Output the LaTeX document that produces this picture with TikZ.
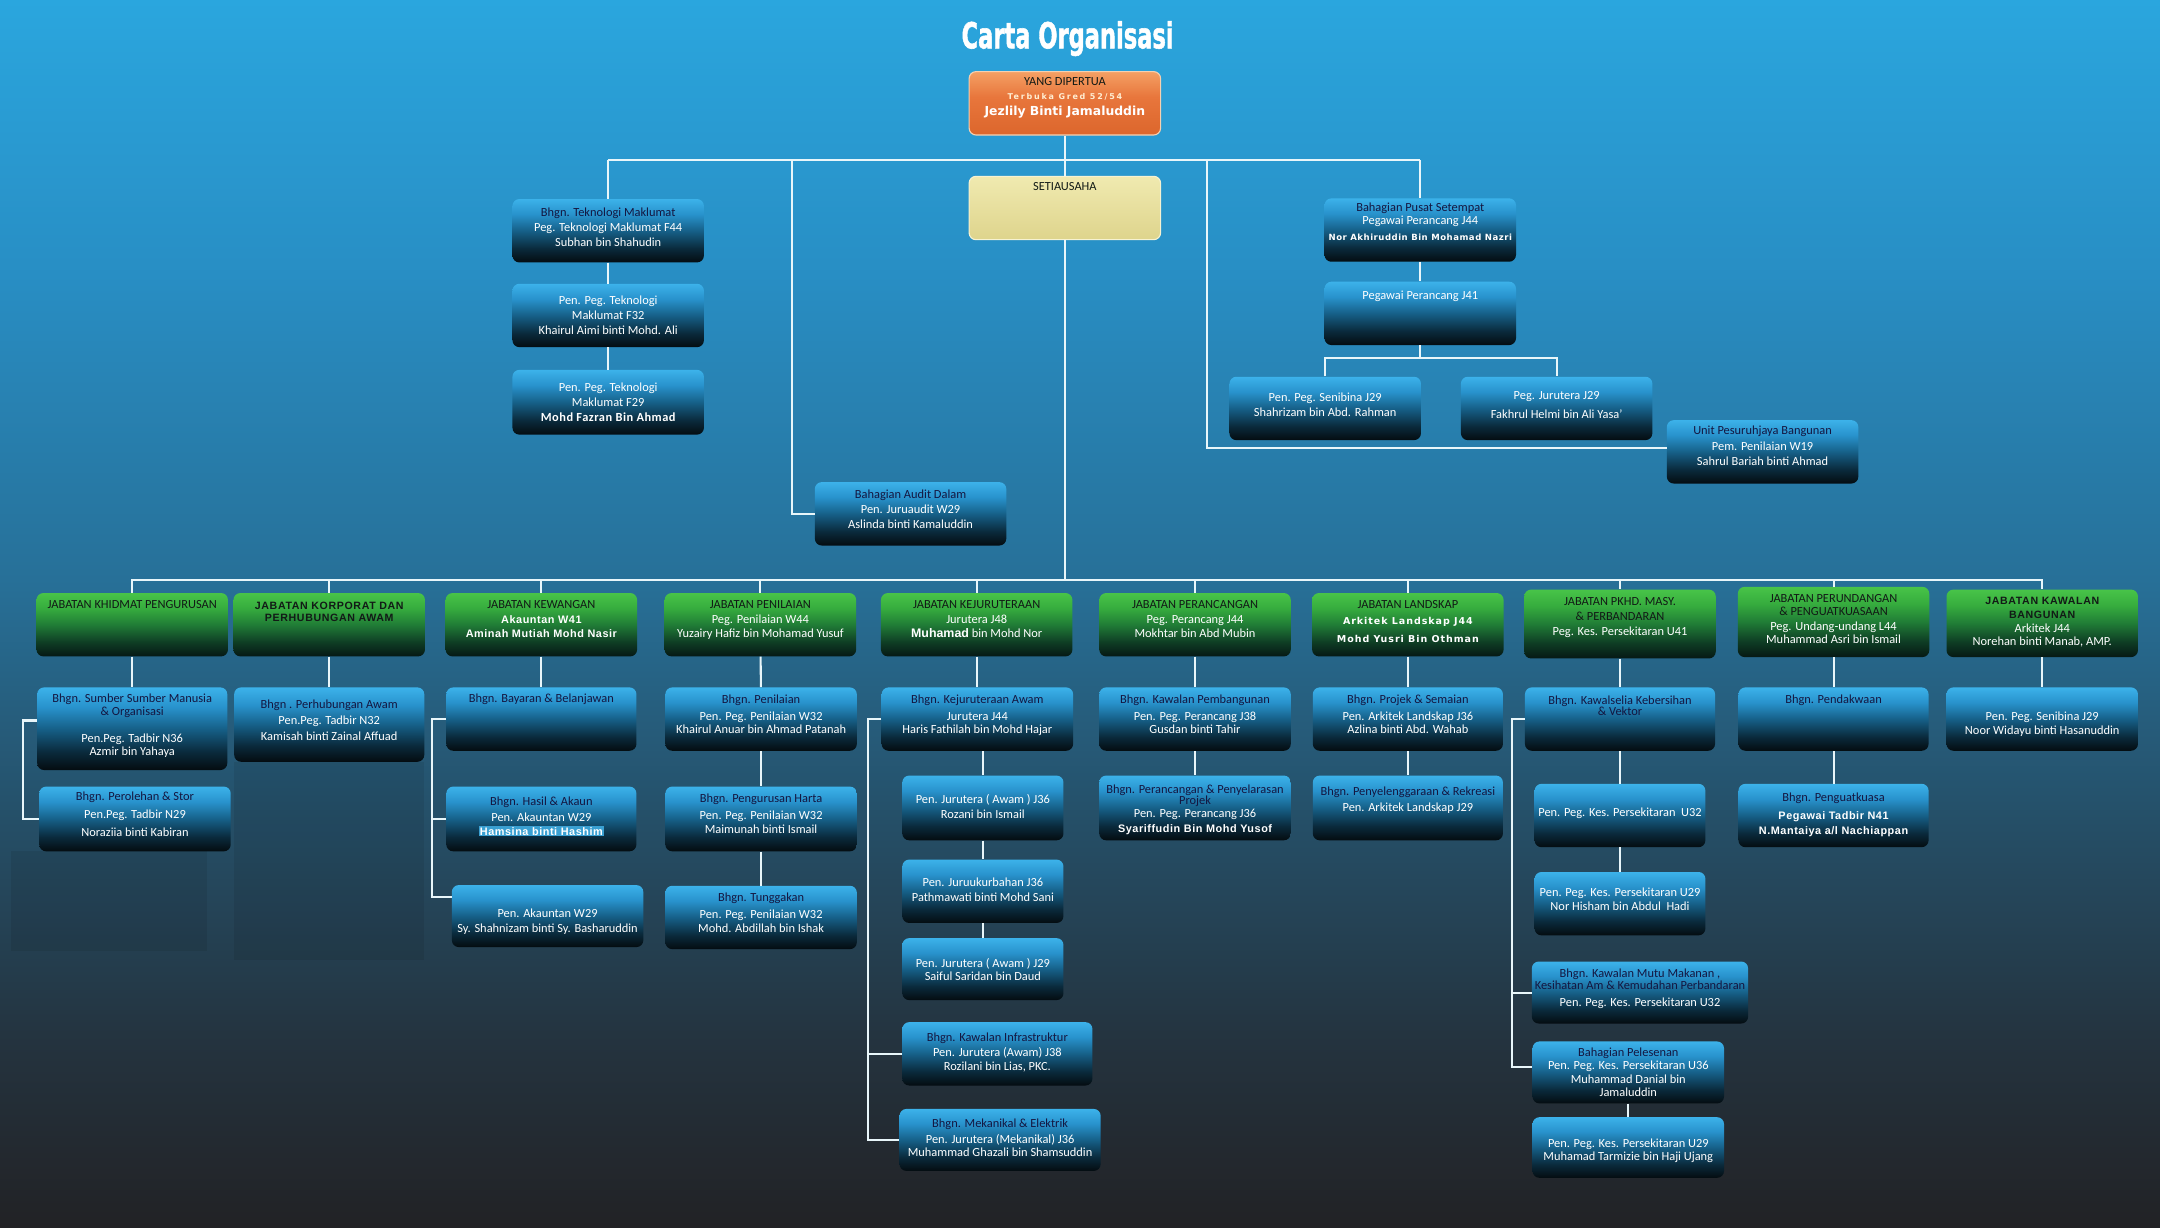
\documentclass[tikz,border=0pt]{standalone}
\usepackage{fontspec}
\setmainfont{Carlito}
\newfontfamily\arialfont{Liberation Sans}
\newfontfamily\verdfont{DejaVu Sans}
\newfontfamily\titlefont[FakeBold=1.6]{DejaVu Sans Condensed}
\usetikzlibrary{positioning}

\definecolor{bg0}{RGB}{42,166,222}
\definecolor{bg1}{RGB}{40,142,196}
\definecolor{bg2}{RGB}{39,112,152}
\definecolor{bg3}{RGB}{37,78,102}
\definecolor{bg4}{RGB}{36,52,64}
\definecolor{bg5}{RGB}{34,34,37}
\definecolor{bx0}{RGB}{60,178,234}
\definecolor{bx1}{RGB}{40,146,204}
\definecolor{bx2}{RGB}{22,96,136}
\definecolor{bx3}{RGB}{10,42,60}
\definecolor{bx4}{RGB}{4,12,16}
\definecolor{gn0}{RGB}{72,196,72}
\definecolor{gn1}{RGB}{54,172,62}
\definecolor{gn2}{RGB}{32,124,54}
\definecolor{gn3}{RGB}{14,60,36}
\definecolor{gn4}{RGB}{6,24,20}
\definecolor{or0}{RGB}{244,160,100}
\definecolor{or1}{RGB}{232,118,60}
\definecolor{or2}{RGB}{220,102,44}
\definecolor{pl0}{RGB}{240,234,176}
\definecolor{pl1}{RGB}{222,212,140}
\definecolor{navy}{RGB}{20,22,64}
\definecolor{darktxt}{RGB}{18,26,22}
\definecolor{creamtxt}{RGB}{255,238,210}
\definecolor{linec}{RGB}{232,246,250}
\definecolor{headedge}{RGB}{246,208,176}
\definecolor{secedge}{RGB}{246,242,210}
\definecolor{hlband}{RGB}{58,160,210}

\pgfdeclareverticalshading{bgshade}{100bp}{color(0bp)=(bg5); color(25bp)=(bg5); color(32.9bp)=(bg4); color(41.3bp)=(bg3); color(51.4bp)=(bg2); color(63.8bp)=(bg1); color(75bp)=(bg0); color(100bp)=(bg0)}
\pgfdeclareverticalshading{blueshade}{100bp}{color(0bp)=(bx4); color(25bp)=(bx4); color(36bp)=(bx3); color(50bp)=(bx2); color(63bp)=(bx1); color(75bp)=(bx0); color(100bp)=(bx0)}
\pgfdeclareverticalshading{greenshade}{100bp}{color(0bp)=(gn4); color(25bp)=(gn4); color(36bp)=(gn3); color(50bp)=(gn2); color(63bp)=(gn1); color(75bp)=(gn0); color(100bp)=(gn0)}
\pgfdeclareverticalshading{orangeshade}{100bp}{color(0bp)=(or2); color(25bp)=(or2); color(55bp)=(or1); color(75bp)=(or0); color(100bp)=(or0)}
\pgfdeclareverticalshading{paleshade}{100bp}{color(0bp)=(pl1); color(25bp)=(pl1); color(75bp)=(pl0); color(100bp)=(pl0)}

\newcommand{\hdr}[1]{{\color{navy}#1}}
\newcommand{\dkt}[1]{{\color{darktxt}#1}}
\newcommand{\abf}[1]{{\arialfont\bfseries\fontsize{7.9}{10}\selectfont\addfontfeature{LetterSpace=5}#1}}
\newcommand{\kbf}[1]{{\color{darktxt}\arialfont\bfseries\fontsize{7.7}{9}\selectfont\addfontfeature{LetterSpace=6}#1}}
\newcommand{\vbf}[1]{{\verdfont\bfseries\fontsize{6.9}{10}\selectfont\addfontfeature{LetterSpace=10}#1}}
\newcommand{\nbf}[1]{{\verdfont\bfseries\fontsize{6.2}{9}\selectfont\addfontfeature{LetterSpace=6}#1}}
\newcommand{\trb}[1]{{\color{creamtxt}\verdfont\bfseries\fontsize{5.8}{8}\selectfont\addfontfeature{LetterSpace=22}#1}}
\newcommand{\jzb}[1]{{\verdfont\bfseries\fontsize{9}{10}\selectfont #1}}

\begin{document}
\begin{tikzpicture}[x=1pt,y=-1pt]
\tikzstyle{subbox}=[rectangle, rounded corners=5pt, shade, shading=blueshade, minimum width=139pt, minimum height=46pt, inner sep=0pt]
\tikzstyle{deptbox}=[subbox, shading=greenshade]
\tikzstyle{headbox}=[subbox, shading=orangeshade, draw=headedge, line width=0.8pt]
\tikzstyle{secbox}=[subbox, shading=paleshade, draw=secedge, line width=0.8pt]
\tikzstyle{txt}=[font=\fontsize{9}{11}\selectfont, text=white, align=center, inner sep=0pt, yshift=-1.5pt]
\tikzstyle{connect}=[draw=linec, line width=1.5pt]
\tikzstyle{panel}=[fill=black, opacity=0.08]

\useasboundingbox (0,0) rectangle (1568,891);
\shade[shading=bgshade] (0,0) rectangle (1568,891);
\fill[panel] (170,553) rectangle (308,697);
\fill[panel] (8,618) rectangle (150,690);

\node[text=white, font=\titlefont\bfseries\fontsize{26}{26}\selectfont] (title) at (775,28) {\scalebox{0.7}[1]{Carta Organisasi}};

% top level
\node[headbox] (yd) at (773,75) {};
\node[txt, below=3pt of yd.north] (yd_t) {\dkt{YANG DIPERTUA}\\[-1pt] \trb{Terbuka Gred 52/54}\\[1pt] \jzb{Jezlily Binti Jamaluddin}};
\node[secbox] (setia) at (773,151) {};
\node[txt, below=3pt of setia.north] (setia_t) {\dkt{SETIAUSAHA}};

\node[subbox] (it_1) at (441.5,167.5) {};
\node[txt, below=5pt of it_1.north] (it_1_t) {\hdr{Bhgn. Teknologi Maklumat}\\ Peg. Teknologi Maklumat F44\\ Subhan bin Shahudin};
\node[subbox] (it_2) at (441.5,229) {};
\node[txt, below=7pt of it_2.north] (it_2_t) {Pen. Peg. Teknologi\\ Maklumat F32\\ Khairul Aimi binti Mohd. Ali};
\node[subbox, minimum height=47pt] (it_3) at (441.5,292) {};
\node[txt, below=8pt of it_3.north] (it_3_t) {Pen. Peg. Teknologi\\ Maklumat F29\\ {\bfseries\addfontfeature{LetterSpace=4}Mohd Fazran Bin Ahmad}};

\node[subbox] (audit) at (661,373) {};
\node[txt, below=4pt of audit.north] (audit_t) {\hdr{Bahagian Audit Dalam}\\ Pen. Juruaudit~W29\\ Aslinda binti Kamaluddin};

\node[subbox] (ps_1) at (1031,167) {};
\node[txt, below=2pt of ps_1.north] (ps_1_t) {\hdr{Bahagian Pusat Setempat}\\[-1.5pt] Pegawai Perancang J44\\ \nbf{Nor Akhiruddin Bin Mohamad Nazri}};
\node[subbox] (ps_2) at (1031,227.5) {};
\node[txt, below=5pt of ps_2.north] (ps_2_t) {Pegawai Perancang J41};
\node[subbox] (ps_3) at (962,296.5) {};
\node[txt, below=10pt of ps_3.north] (ps_3_t) {Pen. Peg. Senibina J29\\ Shahrizam bin Abd. Rahman};
\node[subbox] (ps_4) at (1130,296.5) {};
\node[txt, below=9pt of ps_4.north] (ps_4_t) {Peg. Jurutera J29\\[3pt] Fakhrul Helmi bin Ali Yasa'};
\node[subbox] (unit) at (1279.5,328) {};
\node[txt, below=3pt of unit.north] (unit_t) {\hdr{Unit Pesuruhjaya Bangunan}\\ Pem. Penilaian W19\\ Sahrul Bariah binti Ahmad};

\coordinate (top_l) at (441.5,116);
\coordinate (top_r) at (1031,116);
\coordinate (top_a) at (575,116);
\coordinate (top_u) at (876,116);
\coordinate (ps_br) at (1031,260);
\coordinate (bus) at (773,421);

% jabatan
\node[deptbox] (khid) at (96,453.5) {};
\node[txt, below=4pt of khid.north] (khid_t) {\dkt{JABATAN KHIDMAT PENGURUSAN}};
\node[deptbox] (kor) at (239,453.5) {};
\node[txt, below=5pt of kor.north] (kor_t) {\kbf{JABATAN KORPORAT DAN}\\[-2pt] \kbf{PERHUBUNGAN AWAM}};
\node[deptbox] (kew) at (393,453.5) {};
\node[txt, below=4pt of kew.north] (kew_t) {\dkt{JABATAN KEWANGAN}\\[-0.5pt] \abf{Akauntan W41}\\[-0.5pt] \abf{Aminah Mutiah Mohd Nasir}};
\node[deptbox] (nil) at (552,453.5) {};
\node[txt, below=4pt of nil.north] (nil_t) {\dkt{JABATAN PENILAIAN}\\[-0.5pt] Peg. Penilaian W44\\[-0.5pt] Yuzairy Hafiz bin Mohamad Yusuf};
\node[deptbox] (jur) at (709,453.5) {};
\node[txt, below=4pt of jur.north] (jur_t) {\dkt{JABATAN KEJURUTERAAN}\\[-0.5pt] Jurutera J48\\[-0.5pt] {\arialfont\bfseries Muhamad} bin Mohd Nor};
\node[deptbox] (ranc) at (867.5,453.5) {};
\node[txt, below=4pt of ranc.north] (ranc_t) {\dkt{JABATAN PERANCANGAN}\\[-0.5pt] Peg. Perancang J44\\[-0.5pt] Mokhtar bin Abd Mubin};
\node[deptbox] (land) at (1022,453.5) {};
\node[txt, below=4pt of land.north] (land_t) {\dkt{JABATAN LANDSKAP}\\[0.5pt] \vbf{Arkitek Landskap J44}\\[2pt] \vbf{Mohd Yusri Bin Othman}};
\node[deptbox, minimum height=50pt] (pkhd) at (1176,453) {};
\node[txt, below=4pt of pkhd.north] (pkhd_t) {\dkt{JABATAN PKHD. MASY.}\\ \dkt{\& PERBANDARAN}\\ Peg. Kes. Persekitaran U41};
\node[deptbox, minimum height=51pt] (undang) at (1331,451.5) {};
\node[txt, below=4pt of undang.north] (undang_t) {\dkt{JABATAN PERUNDANGAN}\\[-1.5pt] \dkt{\& PENGUATKUASAAN}\\[-0.5pt] Peg. Undang-undang L44\\[-1.5pt] Muhammad Asri bin Ismail};
\node[deptbox, minimum height=49pt] (kaw) at (1482.5,452.5) {};
\node[txt, below=4pt of kaw.north] (kaw_t) {\kbf{JABATAN KAWALAN}\\[-1pt] \kbf{BANGUNAN}\\[-0.5pt] Arkitek J44\\[-1.5pt] Norehan binti Manab, AMP.};

% bahagian
\node[subbox, minimum width=138pt, minimum height=60pt] (khid_1) at (96,529) {};
\node[txt, below=3.5pt of khid_1.north] (khid_1_t) {\hdr{Bhgn. Sumber Sumber Manusia}\\[-1.5pt] \hdr{\& Organisasi}\\[8pt] Pen.Peg. Tadbir N36\\[-1pt] Azmir bin Yahaya};
\node[subbox, minimum height=47pt] (khid_2) at (98,594.5) {};
\node[txt, below=2.5pt of khid_2.north] (khid_2_t) {\hdr{Bhgn. Perolehan \& Stor}\\[2pt] Pen.Peg. Tadbir N29\\[2pt] Noraziia binti Kabiran};
\node[subbox, minimum width=138pt, minimum height=54pt] (kor_1) at (239,526) {};
\node[txt, below=7.5pt of kor_1.north] (kor_1_t) {\hdr{Bhgn . Perhubungan Awam}\\[1pt] Pen.Peg. Tadbir N32\\ Kamisah binti Zainal Affuad};

\node[subbox, minimum width=138pt] (kew_1) at (393,522) {};
\node[txt, below=3.5pt of kew_1.north] (kew_1_t) {\hdr{Bhgn. Bayaran \& Belanjawan}};
\node[subbox, minimum width=138pt, minimum height=47pt] (kew_2) at (393,594.5) {};
\node[txt, below=6pt of kew_2.north] (kew_2_t) {\hdr{Bhgn. Hasil \& Akaun}\\[0.5pt] Pen. Akauntan W29\\[-1pt] {\setlength{\fboxsep}{0.6pt}\colorbox{hlband}{\abf{Hamsina binti Hashim}}}};
\node[subbox, minimum height=45pt] (kew_3) at (397.5,665) {};
\node[txt, below=16pt of kew_3.north] (kew_3_t) {Pen. Akauntan W29\\ Sy. Shahnizam binti Sy. Basharuddin};

\node[subbox] (nil_1) at (552.5,522) {};
\node[txt, below=4pt of nil_1.north] (nil_1_t) {\hdr{Bhgn. Penilaian}\\[1pt] Pen. Peg. Penilaian W32\\[-1pt] Khairul Anuar bin Ahmad Patanah};
\node[subbox, minimum height=47pt] (nil_2) at (552.5,594.5) {};
\node[txt, below=4pt of nil_2.north] (nil_2_t) {\hdr{Bhgn. Pengurusan Harta}\\[1pt] Pen. Peg. Penilaian W32\\[-1pt] Maimunah binti Ismail};
\node[subbox] (nil_3) at (552.5,666) {};
\node[txt, below=4pt of nil_3.north] (nil_3_t) {\hdr{Bhgn. Tunggakan}\\[1pt] Pen. Peg. Penilaian W32\\[-1pt] Mohd. Abdillah bin Ishak};

\node[subbox] (jur_1) at (709.5,522) {};
\node[txt, below=4pt of jur_1.north] (jur_1_t) {\hdr{Bhgn. Kejuruteraan Awam}\\[1pt] Jurutera J44\\[-1pt] Haris Fathilah bin Mohd Hajar};
\node[subbox, minimum width=117pt, minimum height=47pt] (jur_2) at (713.5,586.5) {};
\node[txt, below=12pt of jur_2.north] (jur_2_t) {Pen. Jurutera ( Awam ) J36\\ Rozani bin Ismail};
\node[subbox, minimum width=117pt] (jur_3) at (713.5,647) {};
\node[txt, below=12pt of jur_3.north] (jur_3_t) {Pen. Juruukurbahan J36\\ Pathmawati binti Mohd Sani};
\node[subbox, minimum width=117pt, minimum height=45pt] (jur_4) at (713.5,703.5) {};
\node[txt, below=13pt of jur_4.north] (jur_4_t) {Pen. Jurutera ( Awam ) J29\\[-1pt] Saiful Saridan bin Daud};
\node[subbox, minimum width=138pt] (jur_5) at (724,765) {};
\node[txt, below=6pt of jur_5.north] (jur_5_t) {\hdr{Bhgn. Kawalan Infrastruktur}\\[0.5pt] Pen. Jurutera (Awam) J38\\[-1pt] Rozilani bin Lias, PKC.};
\node[subbox, minimum width=146pt, minimum height=45pt] (jur_6) at (726,827.5) {};
\node[txt, below=5.5pt of jur_6.north] (jur_6_t) {\hdr{Bhgn. Mekanikal \& Elektrik}\\[0.5pt] Pen. Jurutera (Mekanikal) J36\\[-1pt] Muhammad Ghazali bin Shamsuddin};

\node[subbox] (ranc_1) at (867.5,522) {};
\node[txt, below=4pt of ranc_1.north] (ranc_1_t) {\hdr{Bhgn. Kawalan Pembangunan}\\[1pt] Pen. Peg. Perancang J38\\[-1pt] Gusdan binti Tahir};
\node[subbox, minimum height=47pt] (ranc_2) at (867.5,586.5) {};
\node[txt, below=5pt of ranc_2.north] (ranc_2_t) {\hdr{Bhgn. Perancangan \& Penyelarasan}\\[-2.5pt] \hdr{Projek}\\[-1.5pt] Pen. Peg. Perancang J36\\[-0.5pt] \abf{Syariffudin Bin Mohd Yusof}};

\node[subbox, minimum width=138pt] (land_1) at (1022,522) {};
\node[txt, below=4pt of land_1.north] (land_1_t) {\hdr{Bhgn. Projek \& Semaian}\\[1pt] Pen. Arkitek Landskap J36\\[-1pt] Azlina binti Abd. Wahab};
\node[subbox, minimum width=138pt, minimum height=47pt] (land_2) at (1022,586.5) {};
\node[txt, below=6.5pt of land_2.north] (land_2_t) {\hdr{Bhgn. Penyelenggaraan \& Rekreasi}\\[1pt] Pen. Arkitek Landskap J29};

\node[subbox, minimum width=138pt] (pkhd_1) at (1176,522) {};
\node[txt, below=4.5pt of pkhd_1.north] (pkhd_1_t) {\hdr{Bhgn. Kawalselia Kebersihan}\\[-2.5pt] \hdr{\& Vektor}};
\node[subbox, minimum width=124pt] (pkhd_2) at (1176,592) {};
\node[txt, below=16pt of pkhd_2.north] (pkhd_2_t) {Pen. Peg. Kes. Persekitaran~~U32};
\node[subbox, minimum width=124pt] (pkhd_3) at (1176,656) {};
\node[txt, below=10pt of pkhd_3.north] (pkhd_3_t) {Pen. Peg. Kes. Persekitaran U29\\[-1pt] Nor Hisham bin Abdul~~Hadi};
\node[subbox, minimum width=157pt, minimum height=45pt] (pkhd_4) at (1190.5,720.5) {};
\node[txt, below=4pt of pkhd_4.north] (pkhd_4_t) {\hdr{Bhgn. Kawalan Mutu Makanan ,}\\[-2.5pt] \hdr{Kesihatan Am \& Kemudahan Perbandaran}\\[1.5pt] Pen. Peg. Kes. Persekitaran U32};
\node[subbox, minimum height=45pt] (pkhd_5) at (1182,778.5) {};
\node[txt, below=3pt of pkhd_5.north] (pkhd_5_t) {\hdr{Bahagian Pelesenan}\\[-1.5pt] Pen. Peg. Kes. Persekitaran U36\\[-1pt] Muhammad Danial bin\\[-1pt] Jamaluddin};
\node[subbox, minimum height=44pt] (pkhd_6) at (1182,833) {};
\node[txt, below=14pt of pkhd_6.north] (pkhd_6_t) {Pen. Peg. Kes. Persekitaran U29\\[-1.5pt] Muhamad Tarmizie bin Haji Ujang};

\node[subbox, minimum width=138pt] (undang_1) at (1331,522) {};
\node[txt, below=4pt of undang_1.north] (undang_1_t) {\hdr{Bhgn. Pendakwaan}};
\node[subbox, minimum width=138pt] (undang_2) at (1331,592) {};
\node[txt, below=5pt of undang_2.north] (undang_2_t) {\hdr{Bhgn. Penguatkuasa}\\[2pt] \abf{Pegawai Tadbir N41}\\ \abf{N.Mantaiya a/l Nachiappan}};

\node[subbox] (kaw_1) at (1482.5,522) {};
\node[txt, below=16.5pt of kaw_1.north] (kaw_1_t) {Pen. Peg. Senibina J29\\[-1pt] Noor Widayu binti Hasanuddin};

% connectors
\draw[connect] (top_l) -- (top_r);
\draw[connect] (top_a) |- (audit.west);
\draw[connect] (top_u) |- ([yshift=3pt]unit.west);
\draw[connect] (ps_3.north) |- (ps_br) -| (ps_4.north);
\draw[connect] (khid.north) |- (bus) -| (kaw.north);
\draw[connect] ([yshift=6pt]khid_1.west) -- ++(-10,0) |- (khid_2.west);
\draw[connect] (kew_1.west) -- ++(-10,0) coordinate (kew_b) |- ([yshift=14pt]kew_3.west);
\draw[connect] (kew_2.west) -- (kew_2.west -| kew_b);
\draw[connect] (jur_1.west) -- ++(-10,0) coordinate (jur_b) |- (jur_6.west);
\draw[connect] (jur_5.west) -- (jur_5.west -| jur_b);
\draw[connect] (pkhd_1.west) -- ++(-9,0) coordinate (pkhd_b) |- ([yshift=4pt]pkhd_5.west);
\draw[connect] (pkhd_4.west) -- (pkhd_4.west -| pkhd_b);

\path
(yd) edge [connect] (setia)
(setia) edge [connect] (bus)
(top_l) edge [connect] (it_1)
(it_1) edge [connect] (it_2)
(it_2) edge [connect] (it_3)
(top_r) edge [connect] (ps_1)
(ps_1) edge [connect] (ps_2)
(ps_2) edge [connect] (ps_br)

(kor.north |- bus) edge [connect] (kor.north)
(kew.north |- bus) edge [connect] (kew.north)
(nil.north |- bus) edge [connect] (nil.north)
(jur.north |- bus) edge [connect] (jur.north)
(ranc.north |- bus) edge [connect] (ranc.north)
(land.north |- bus) edge [connect] (land.north)
(pkhd.north |- bus) edge [connect] (pkhd.north)
(undang.north |- bus) edge [connect] (undang.north)

(khid) edge [connect] (khid_1)
(kor) edge [connect] (kor_1)
(kew) edge [connect] (kew_1)
(nil) edge [connect] (nil_1)
(nil_1) edge [connect] (nil_2)
(nil_2) edge [connect] (nil_3)
(jur.south -| jur_1) edge [connect] (jur_1)
(jur_1.south -| jur_2) edge [connect] (jur_2)
(jur_2) edge [connect] (jur_3)
(jur_3) edge [connect] (jur_4)
(ranc) edge [connect] (ranc_1)
(ranc_1) edge [connect] (ranc_2)
(land) edge [connect] (land_1)
(land_1) edge [connect] (land_2)
(pkhd) edge [connect] (pkhd_1)
(pkhd_1) edge [connect] (pkhd_2)
(pkhd_2) edge [connect] (pkhd_3)
(pkhd_5) edge [connect] (pkhd_6)
(undang) edge [connect] (undang_1)
(undang_1) edge [connect] (undang_2)
(kaw) edge [connect] (kaw_1);
\end{tikzpicture}
\end{document}
